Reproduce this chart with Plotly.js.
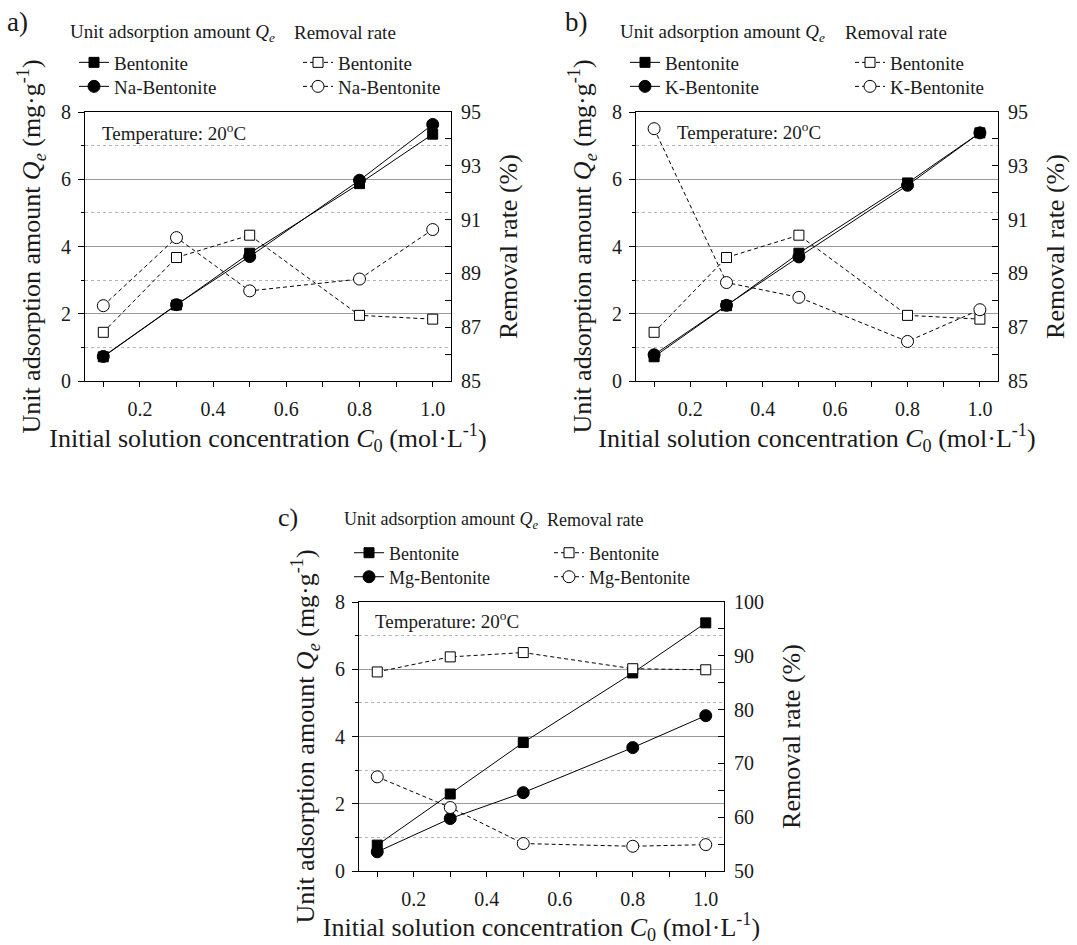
<!DOCTYPE html>
<html>
<head>
<meta charset="utf-8">
<script src="https://cdn.plot.ly/plotly-3.0.1.min.js"></script>
<style>html,body{margin:0;padding:0;background:#fff;}#chart{width:1077px;height:945px;}</style>
</head>
<body>
<div id="chart"></div>
<script>
// ---------- data ----------
const conc = [0.1, 0.3, 0.5, 0.8, 1.0];
const xTickVals = [0.2, 0.4, 0.6, 0.8, 1.0];
const xTickText = ["0.2", "0.4", "0.6", "0.8", "1.0"];

// panel a
const qeBentoniteA = [0.72, 2.26, 3.80, 5.87, 7.34];
const qeNaBentonite = [0.73, 2.27, 3.70, 5.97, 7.63];
const rrBentoniteA = [86.81, 89.59, 90.42, 87.44, 87.30];
const rrNaBentonite = [87.80, 90.33, 88.35, 88.79, 90.63];

// panel b
const qeBentoniteB = [0.72, 2.24, 3.80, 5.89, 7.38];
const qeKBentonite = [0.78, 2.25, 3.69, 5.82, 7.38];
const rrBentoniteB = [86.81, 89.59, 90.42, 87.44, 87.30];
const rrKBentonite = [94.38, 88.66, 88.11, 86.47, 87.65];

// panel c
const qeBentoniteC = [0.77, 2.29, 3.82, 5.89, 7.38];
const qeMgBentonite = [0.57, 1.56, 2.33, 3.67, 4.62];
const rrBentoniteC = [87.0, 89.8, 90.6, 87.6, 87.4];
const rrMgBentonite = [67.5, 61.8, 55.1, 54.6, 54.9];

const seriesNames = ["Bentonite", "Na-Bentonite", "Bentonite", "K-Bentonite", "Bentonite", "Mg-Bentonite"];

// ---------- helpers ----------
const W = 1077, H = 945;
const px = v => v / W;
const py = v => 1 - v / H;
const FONT = "'Liberation Serif', 'Times New Roman', Times, serif";
const TXT = "#1a1a1a";

function qTrace(y, name, sym, xa, ya, lg) {
  return {x: conc, y: y, name: name, type: "scatter", mode: "lines+markers",
    xaxis: xa, yaxis: ya, legend: lg, showlegend: true,
    line: {color: "#000", width: 1},
    marker: {symbol: sym, size: sym === "square" ? 10 : 12, color: "#000", line: {color: "#000", width: 1}}};
}
function rTrace(y, name, sym, xa, ya, lg) {
  return {x: conc, y: y, name: name, type: "scatter", mode: "lines+markers",
    xaxis: xa, yaxis: ya, legend: lg, showlegend: true,
    line: {color: "#000", width: 1, dash: "4px,3px"},
    marker: {symbol: sym, size: sym === "square" ? 10 : 12, color: "#fff", line: {color: "#000", width: 1}}};
}

const data = [
  qTrace(qeBentoniteA, seriesNames[0], "square", "x", "y", "legend"),
  qTrace(qeNaBentonite, seriesNames[1], "circle", "x", "y", "legend2"),
  rTrace(rrBentoniteA, seriesNames[0], "square", "x", "y2", "legend3"),
  rTrace(rrNaBentonite, seriesNames[1], "circle", "x", "y2", "legend4"),

  qTrace(qeBentoniteB, seriesNames[2], "square", "x2", "y3", "legend5"),
  qTrace(qeKBentonite, seriesNames[3], "circle", "x2", "y3", "legend6"),
  rTrace(rrBentoniteB, seriesNames[2], "square", "x2", "y4", "legend7"),
  rTrace(rrKBentonite, seriesNames[3], "circle", "x2", "y4", "legend8"),

  qTrace(qeBentoniteC, seriesNames[4], "square", "x3", "y5", "legend9"),
  qTrace(qeMgBentonite, seriesNames[5], "circle", "x3", "y5", "legend10"),
  rTrace(rrBentoniteC, seriesNames[4], "square", "x3", "y6", "legend11"),
  rTrace(rrMgBentonite, seriesNames[5], "circle", "x3", "y6", "legend12")
];

const xTitle = "Initial solution concentration <i>C</i><sub>0</sub> (mol·L<sup>-1</sup>)";
const yTitle = "Unit adsorption amount <i>Q</i><sub><i>e</i></sub> (mg·g<sup>-1</sup>)";
const y2Title = "Removal rate (%)";

function xAxis(domain, anchor) {
  return {domain: domain, anchor: anchor, range: [0.05, 1.05],
    tickvals: xTickVals, ticktext: xTickText,
    ticks: "outside", ticklen: 5, tickcolor: "#000", tickwidth: 1,
    showline: true, linecolor: "#000", linewidth: 1, mirror: true,
    showgrid: false, zeroline: false,
    minor: {tickvals: [0.1, 0.3, 0.5, 0.7, 0.9], ticks: "outside", ticklen: 5, tickcolor: "#000", showgrid: false},
    tickfont: {family: FONT, size: 20, color: TXT}, ticklabelstandoff: 5,
    title: {text: xTitle, font: {family: FONT, size: 26, color: TXT}, standoff: 5}};
}
function yAxis(domain, anchor) {
  return {domain: domain, anchor: anchor, range: [0, 8], dtick: 2, tick0: 0,
    ticks: "outside", ticklen: 6, tickcolor: "#000",
    showline: true, linecolor: "#000", linewidth: 1,
    showgrid: true, gridcolor: "#9a9a9a", gridwidth: 1, zeroline: false,
    minor: {dtick: 1, tick0: 0, ticks: "outside", ticklen: 3, tickcolor: "#000",
      showgrid: true, griddash: "dot", gridcolor: "#b5b5b5", gridwidth: 1},
    tickfont: {family: FONT, size: 20, color: TXT}, ticklabelstandoff: 3,
    title: {text: yTitle, font: {family: FONT, size: 26, color: TXT}, standoff: 12}};
}
function y2Axis(over, anchor, range, dt, mdt) {
  return {overlaying: over, anchor: anchor, side: "right", range: range, dtick: dt, tick0: range[0],
    ticks: "inside", ticklen: 6, tickcolor: "#000",
    showline: true, linecolor: "#000", linewidth: 1, showgrid: false, zeroline: false,
    minor: {dtick: mdt, tick0: range[0], ticks: "inside", ticklen: 6, tickcolor: "#000", showgrid: false},
    tickfont: {family: FONT, size: 20, color: TXT}, ticklabelstandoff: 5,
    title: {text: y2Title, font: {family: FONT, size: 26, color: TXT}, standoff: 18}};
}

const domA = [px(85), px(451)], domB = [px(636), px(998)], domC = [px(359), px(724)];
const domTop = [py(381), py(112)], domBot = [py(871), py(602)];

// one legend per row; (x of legend box, centre y of the row, font size)
function lg(x, rowY, size) {
  return {x: px(x), y: py(rowY - 19.5 * size / 19), xanchor: "left", yanchor: "top", orientation: "v",
    bgcolor: "rgba(0,0,0,0)", borderwidth: 0, tracegroupgap: 0, visible: true,
    font: {family: FONT, size: size, color: TXT}};
}

function ann(text, x, y, size) {
  return {text: text, xref: "paper", yref: "paper", x: px(x), y: py(y),
    xanchor: "left", yanchor: "middle", showarrow: false,
    font: {family: FONT, size: size, color: TXT}};
}

const hdrQ = "Unit adsorption amount <i>Q</i><sub><i>e</i></sub>";
const hdrR = "Removal rate";
const temp = "Temperature: 20<sup>o</sup>C";

const layout = {
  width: W, height: H, margin: {l: 0, r: 0, t: 0, b: 0},
  showlegend: true,
  paper_bgcolor: "#fff", plot_bgcolor: "#fff",
  font: {family: FONT, color: TXT},
  xaxis: xAxis(domA, "y"), yaxis: yAxis(domTop, "x"), yaxis2: y2Axis("y", "x", [85, 95], 2, 1),
  xaxis2: xAxis(domB, "y3"), yaxis3: yAxis(domTop, "x2"), yaxis4: y2Axis("y3", "x2", [85, 95], 2, 1),
  xaxis3: xAxis(domC, "y5"), yaxis5: yAxis(domBot, "x3"), yaxis6: y2Axis("y5", "x3", [50, 100], 10, 5),
  legend: lg(74, 63, 19), legend2: lg(74, 87, 19),
  legend3: lg(298, 63, 19), legend4: lg(298, 87, 19),
  legend5: lg(625, 63, 19), legend6: lg(625, 87, 19),
  legend7: lg(850, 63, 19), legend8: lg(850, 87, 19),
  legend9: lg(349, 553, 18), legend10: lg(349, 577, 18),
  legend11: lg(549, 553, 18), legend12: lg(549, 577, 18),
  annotations: [
    ann("a)", 5, 22, 27), ann(hdrQ, 68, 33, 19), ann(hdrR, 292, 33, 19), ann(temp, 100, 132, 19),
    ann("b)", 563, 22, 27), ann(hdrQ, 618, 33, 19), ann(hdrR, 843, 33, 19), ann(temp, 675, 131, 19),
    ann("c)", 276, 517, 26), ann(hdrQ, 342, 520, 18), ann(hdrR, 545, 520, 18), ann(temp, 373, 620, 19)
  ]
};

Plotly.newPlot("chart", data, layout, {staticPlot: true});
</script>
</body>
</html>
